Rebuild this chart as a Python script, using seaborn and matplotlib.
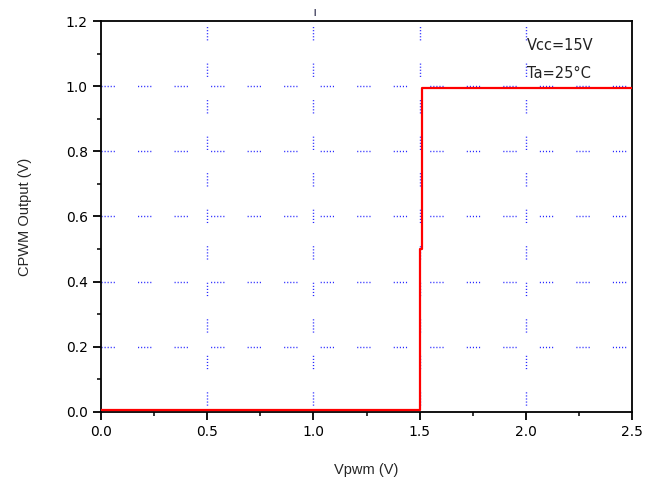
import numpy as np
import pandas as pd
import matplotlib
matplotlib.use("Agg")
import matplotlib.pyplot as plt
import seaborn as sns
from matplotlib.ticker import MultipleLocator

# step response
vpwm = [0.0, 1.50, 1.50, 1.51, 1.51, 2.5]
cpwm_out = [0.005, 0.005, 0.50, 0.50, 0.995, 0.995]
x_ticks = [0.0, 0.5, 1.0, 1.5, 2.0, 2.5]
y_ticks = [0.0, 0.2, 0.4, 0.6, 0.8, 1.0, 1.2]
notes = ["Vcc=15V", "Ta=25°C"]

df = pd.DataFrame({"Vpwm": vpwm, "CPWM": cpwm_out})

sns.set_style("ticks")
plt.rcParams['font.family'] = ['Liberation Sans', 'DejaVu Sans']

fig = plt.figure(figsize=(6.58, 4.84), dpi=100)
ax = fig.add_axes([0.1535, 0.1488, 0.807, 0.8078])

# blue dotted grid, groups of dots with long gaps
dot_style = (0, (0.8, 1.4, 0.8, 1.4, 0.8, 1.4, 0.8, 1.4, 0.8, 16.7))
vert_style = (-4, (0.8, 1.4, 0.8, 1.4, 0.8, 1.4, 0.8, 1.4, 0.8, 16.7))
for xv in x_ticks[1:-1]:
    # drawn from the top down, like the original
    ax.axvline(xv, ymin=1, ymax=0, color='#2828ff', lw=1.0, ls=vert_style, zorder=1)
for yv in y_ticks[1:-1]:
    ax.axhline(yv, color='#2828ff', lw=1.0, ls=dot_style, zorder=1)

sns.lineplot(data=df, x="Vpwm", y="CPWM", sort=False, estimator=None,
             color='red', lw=1.6, ax=ax, zorder=3)

ax.set_xlim(0, 2.5)
ax.set_ylim(0, 1.2)
ax.set_xticks(x_ticks)
ax.set_yticks(y_ticks)
ax.set_xticklabels([f"{v:.1f}" for v in x_ticks], family='DejaVu Sans')
ax.set_yticklabels([f"{v:.1f}" for v in y_ticks], family='DejaVu Sans')
ax.xaxis.set_minor_locator(MultipleLocator(0.25))
ax.yaxis.set_minor_locator(MultipleLocator(0.1))
ax.tick_params(which='major', direction='out', length=5.5, width=1.3, labelsize=10, colors='black', pad=4)
ax.tick_params(which='minor', direction='out', length=3, width=1.3)
for s in ax.spines.values():
    s.set_visible(True)
    s.set_linewidth(1.3)
    s.set_color('black')

ax.set_xlabel("Vpwm (V)", fontsize=10.5, labelpad=17)
ax.set_ylabel("CPWM Output (V)", fontsize=10.5, labelpad=24)

ax.text(0.802, 0.925, notes[0], transform=ax.transAxes, fontsize=10.5,
        color='#222222', family='DejaVu Sans')
ax.text(0.802, 0.855, notes[1], transform=ax.transAxes, fontsize=10.5,
        color='#222222', family='DejaVu Sans')

# small stray mark above the frame
fig.text(0.478, 0.975, "|", fontsize=6, fontweight='bold', color='#222244', ha='center', va='center')

fig.savefig("out.png", dpi=100)
